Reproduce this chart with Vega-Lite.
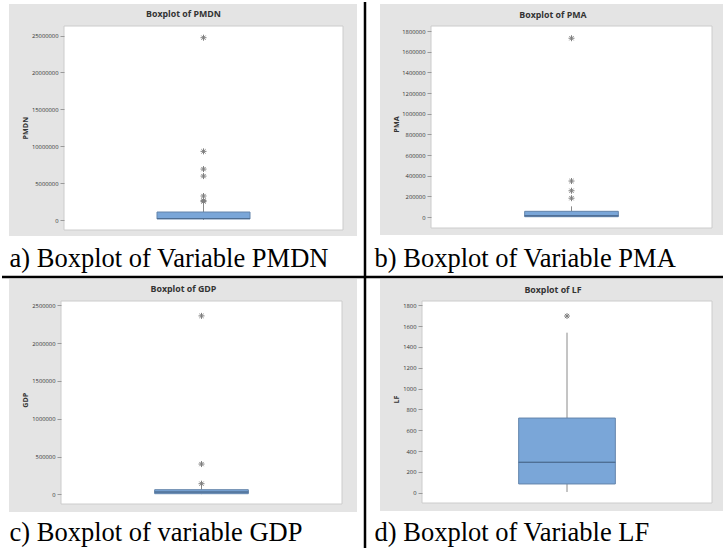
{
  "$schema": "https://vega.github.io/schema/vega-lite/v6.json",
  "background": "white",
  "padding": 0,
  "bounds": "flush",
  "spacing": 0,
  "columns": 2,
  "datasets": {
    "stats": [
      {"variable": "PMDN", "lower": 10000, "q1": 140000, "median": 200000, "q3": 1080000, "upper": 2150000},
      {"variable": "PMA", "lower": 1000, "q1": 3000, "median": 12000, "q3": 55000, "upper": 103000},
      {"variable": "GDP", "lower": 2000, "q1": 8000, "median": 30000, "q3": 61000, "upper": 110000},
      {"variable": "LF", "lower": 7, "q1": 84, "median": 292, "q3": 717, "upper": 1537}
    ],
    "outliers": [
      {"variable": "PMDN", "value": 24700000},
      {"variable": "PMDN", "value": 9300000},
      {"variable": "PMDN", "value": 6900000},
      {"variable": "PMDN", "value": 5950000},
      {"variable": "PMDN", "value": 3250000},
      {"variable": "PMDN", "value": 2650000},
      {"variable": "PMDN", "value": 2500000},
      {"variable": "PMA", "value": 1730000},
      {"variable": "PMA", "value": 348000},
      {"variable": "PMA", "value": 254000},
      {"variable": "PMA", "value": 182000},
      {"variable": "GDP", "value": 2360000},
      {"variable": "GDP", "value": 400000},
      {"variable": "GDP", "value": 140000},
      {"variable": "LF", "value": 1697}
    ]
  },
  "concat": [
    {
      "width": 363, "height": 275,
      "title": {"text": "Boxplot of PMDN", "dx": 0},
      "layer": [
        {
          "data": {"values": [{}]},
          "layer": [
            {"mark": {"type": "rect", "fill": "#e4e4e4"},
             "encoding": {
               "x": {"datum": 7, "type": "quantitative", "scale": {"domain": [0, 363], "nice": false, "zero": false}, "axis": null},
               "x2": {"datum": 355},
               "y": {"datum": 2, "type": "quantitative", "scale": {"domain": [0, 275], "reverse": true, "nice": false, "zero": false}, "axis": null},
               "y2": {"datum": 234}}},
            {"mark": {"type": "rect", "fill": "white", "stroke": "#cccccc", "strokeWidth": 1},
             "encoding": {
               "x": {"datum": 62, "type": "quantitative", "scale": {"domain": [0, 363], "nice": false, "zero": false}, "axis": null},
               "x2": {"datum": 341},
               "y": {"datum": 24, "type": "quantitative", "scale": {"domain": [0, 275], "reverse": true, "nice": false, "zero": false}, "axis": null},
               "y2": {"datum": 228}}},
            {"mark": {"type": "rule", "color": "black", "strokeWidth": 2.5},
             "encoding": {
               "x": {"datum": 363, "type": "quantitative", "scale": {"domain": [0, 363], "nice": false, "zero": false}, "axis": null},
               "y": {"datum": 0, "type": "quantitative", "scale": {"domain": [0, 275], "reverse": true, "nice": false, "zero": false}, "axis": null},
               "y2": {"datum": 275}}},
            {"mark": {"type": "rule", "color": "black", "strokeWidth": 2.5},
             "encoding": {
               "x": {"datum": 0, "type": "quantitative", "scale": {"domain": [0, 363], "nice": false, "zero": false}, "axis": null},
               "x2": {"datum": 363},
               "y": {"datum": 275, "type": "quantitative", "scale": {"domain": [0, 275], "reverse": true, "nice": false, "zero": false}, "axis": null}}}
          ]
        },
        {
          "layer": [
            {"data": {"name": "stats"}, "transform": [{"filter": "datum.variable === 'PMDN'"}],
             "mark": {"type": "rule", "color": "#8a8a8a", "strokeWidth": 1},
             "encoding": {
               "x": {"field": "variable", "type": "nominal", "scale": {"range": [62, 341], "paddingInner": 0, "paddingOuter": 1}, "axis": {"orient": "bottom", "zindex": 1, "title": "a) Boxplot of Variable PMDN", "titleX": 7, "titleY": -11}},
               "y": {"field": "q3", "type": "quantitative", "scale": {"domain": [0, 25000000], "range": [218, 33.5], "nice": false, "zero": false}, "axis": {"orient": "left", "zindex": 1, "title": "PMDN", "offset": -62, "titleX": -39, "values": [0, 5000000, 10000000, 15000000, 20000000, 25000000]}},
               "y2": {"field": "upper"}}},
            {"data": {"name": "stats"}, "transform": [{"filter": "datum.variable === 'PMDN'"}],
             "mark": {"type": "rule", "color": "#8a8a8a", "strokeWidth": 1},
             "encoding": {
               "x": {"field": "variable", "type": "nominal", "scale": {"range": [62, 341], "paddingInner": 0, "paddingOuter": 1}, "axis": {"orient": "bottom", "zindex": 1, "title": "a) Boxplot of Variable PMDN", "titleX": 7, "titleY": -11}},
               "y": {"field": "lower", "type": "quantitative", "scale": {"domain": [0, 25000000], "range": [218, 33.5], "nice": false, "zero": false}, "axis": {"orient": "left", "zindex": 1, "title": "PMDN", "offset": -62, "titleX": -39, "values": [0, 5000000, 10000000, 15000000, 20000000, 25000000]}},
               "y2": {"field": "q1"}}},
            {"data": {"name": "stats"}, "transform": [{"filter": "datum.variable === 'PMDN'"}],
             "mark": {"type": "bar", "fill": "#7aa6d8", "stroke": "#6384ab", "strokeWidth": 1},
             "encoding": {
               "x": {"field": "variable", "type": "nominal", "scale": {"range": [62, 341], "paddingInner": 0, "paddingOuter": 1}, "axis": {"orient": "bottom", "zindex": 1, "title": "a) Boxplot of Variable PMDN", "titleX": 7, "titleY": -11}},
               "y": {"field": "q1", "type": "quantitative", "scale": {"domain": [0, 25000000], "range": [218, 33.5], "nice": false, "zero": false}, "axis": {"orient": "left", "zindex": 1, "title": "PMDN", "offset": -62, "titleX": -39, "values": [0, 5000000, 10000000, 15000000, 20000000, 25000000]}},
               "y2": {"field": "q3"}}},
            {"data": {"name": "stats"}, "transform": [{"filter": "datum.variable === 'PMDN'"}],
             "mark": {"type": "bar", "fillOpacity": 0, "stroke": "#4e6d93", "strokeWidth": 1},
             "encoding": {
               "x": {"field": "variable", "type": "nominal", "scale": {"range": [62, 341], "paddingInner": 0, "paddingOuter": 1}, "axis": {"orient": "bottom", "zindex": 1, "title": "a) Boxplot of Variable PMDN", "titleX": 7, "titleY": -11}},
               "y": {"field": "median", "type": "quantitative", "scale": {"domain": [0, 25000000], "range": [218, 33.5], "nice": false, "zero": false}, "axis": {"orient": "left", "zindex": 1, "title": "PMDN", "offset": -62, "titleX": -39, "values": [0, 5000000, 10000000, 15000000, 20000000, 25000000]}},
               "y2": {"field": "median"}}},
            {"data": {"name": "outliers"}, "transform": [{"filter": "datum.variable === 'PMDN'"}],
             "mark": {"type": "point", "shape": "M0,-1L0,1M-1,0L1,0M-0.7,-0.7L0.7,0.7M-0.7,0.7L0.7,-0.7", "filled": false, "color": "#7f7f7f", "strokeWidth": 1, "size": 36, "opacity": 1},
             "encoding": {
               "x": {"field": "variable", "type": "nominal", "scale": {"range": [62, 341], "paddingInner": 0, "paddingOuter": 1}, "axis": {"orient": "bottom", "zindex": 1, "title": "a) Boxplot of Variable PMDN", "titleX": 7, "titleY": -11}},
               "y": {"field": "value", "type": "quantitative", "scale": {"domain": [0, 25000000], "range": [218, 33.5], "nice": false, "zero": false}, "axis": {"orient": "left", "zindex": 1, "title": "PMDN", "offset": -62, "titleX": -39, "values": [0, 5000000, 10000000, 15000000, 20000000, 25000000]}}}}
          ]
        }
      ],
      "resolve": {"scale": {"x": "independent", "y": "independent"}}
    },
    {
      "width": 360, "height": 275,
      "title": {"text": "Boxplot of PMA", "dx": 8},
      "layer": [
        {
          "data": {"values": [{}]},
          "layer": [
            {"mark": {"type": "rect", "fill": "#e4e4e4"},
             "encoding": {
               "x": {"datum": 15, "type": "quantitative", "scale": {"domain": [0, 360], "nice": false, "zero": false}, "axis": null},
               "x2": {"datum": 360},
               "y": {"datum": 2, "type": "quantitative", "scale": {"domain": [0, 275], "reverse": true, "nice": false, "zero": false}, "axis": null},
               "y2": {"datum": 233}}},
            {"mark": {"type": "rect", "fill": "white", "stroke": "#cccccc", "strokeWidth": 1},
             "encoding": {
               "x": {"datum": 66, "type": "quantitative", "scale": {"domain": [0, 360], "nice": false, "zero": false}, "axis": null},
               "x2": {"datum": 347},
               "y": {"datum": 24, "type": "quantitative", "scale": {"domain": [0, 275], "reverse": true, "nice": false, "zero": false}, "axis": null},
               "y2": {"datum": 226}}},
            {"mark": {"type": "rule", "color": "black", "strokeWidth": 2.5},
             "encoding": {
               "x": {"datum": 0, "type": "quantitative", "scale": {"domain": [0, 360], "nice": false, "zero": false}, "axis": null},
               "x2": {"datum": 360},
               "y": {"datum": 275, "type": "quantitative", "scale": {"domain": [0, 275], "reverse": true, "nice": false, "zero": false}, "axis": null}}}
          ]
        },
        {
          "layer": [
            {"data": {"name": "stats"}, "transform": [{"filter": "datum.variable === 'PMA'"}],
             "mark": {"type": "rule", "color": "#8a8a8a", "strokeWidth": 1},
             "encoding": {
               "x": {"field": "variable", "type": "nominal", "scale": {"range": [66, 347], "paddingInner": 0, "paddingOuter": 1}, "axis": {"orient": "bottom", "zindex": 1, "title": "b) Boxplot of Variable PMA", "titleX": 9, "titleY": -11}},
               "y": {"field": "q3", "type": "quantitative", "scale": {"domain": [0, 1800000], "range": [215, 29], "nice": false, "zero": false}, "axis": {"orient": "left", "zindex": 1, "title": "PMA", "offset": -66, "titleX": -35, "values": [0, 200000, 400000, 600000, 800000, 1000000, 1200000, 1400000, 1600000, 1800000]}},
               "y2": {"field": "upper"}}},
            {"data": {"name": "stats"}, "transform": [{"filter": "datum.variable === 'PMA'"}],
             "mark": {"type": "rule", "color": "#8a8a8a", "strokeWidth": 1},
             "encoding": {
               "x": {"field": "variable", "type": "nominal", "scale": {"range": [66, 347], "paddingInner": 0, "paddingOuter": 1}, "axis": {"orient": "bottom", "zindex": 1, "title": "b) Boxplot of Variable PMA", "titleX": 9, "titleY": -11}},
               "y": {"field": "lower", "type": "quantitative", "scale": {"domain": [0, 1800000], "range": [215, 29], "nice": false, "zero": false}, "axis": {"orient": "left", "zindex": 1, "title": "PMA", "offset": -66, "titleX": -35, "values": [0, 200000, 400000, 600000, 800000, 1000000, 1200000, 1400000, 1600000, 1800000]}},
               "y2": {"field": "q1"}}},
            {"data": {"name": "stats"}, "transform": [{"filter": "datum.variable === 'PMA'"}],
             "mark": {"type": "bar", "fill": "#7aa6d8", "stroke": "#6384ab", "strokeWidth": 1},
             "encoding": {
               "x": {"field": "variable", "type": "nominal", "scale": {"range": [66, 347], "paddingInner": 0, "paddingOuter": 1}, "axis": {"orient": "bottom", "zindex": 1, "title": "b) Boxplot of Variable PMA", "titleX": 9, "titleY": -11}},
               "y": {"field": "q1", "type": "quantitative", "scale": {"domain": [0, 1800000], "range": [215, 29], "nice": false, "zero": false}, "axis": {"orient": "left", "zindex": 1, "title": "PMA", "offset": -66, "titleX": -35, "values": [0, 200000, 400000, 600000, 800000, 1000000, 1200000, 1400000, 1600000, 1800000]}},
               "y2": {"field": "q3"}}},
            {"data": {"name": "stats"}, "transform": [{"filter": "datum.variable === 'PMA'"}],
             "mark": {"type": "bar", "fillOpacity": 0, "stroke": "#4e6d93", "strokeWidth": 1},
             "encoding": {
               "x": {"field": "variable", "type": "nominal", "scale": {"range": [66, 347], "paddingInner": 0, "paddingOuter": 1}, "axis": {"orient": "bottom", "zindex": 1, "title": "b) Boxplot of Variable PMA", "titleX": 9, "titleY": -11}},
               "y": {"field": "median", "type": "quantitative", "scale": {"domain": [0, 1800000], "range": [215, 29], "nice": false, "zero": false}, "axis": {"orient": "left", "zindex": 1, "title": "PMA", "offset": -66, "titleX": -35, "values": [0, 200000, 400000, 600000, 800000, 1000000, 1200000, 1400000, 1600000, 1800000]}},
               "y2": {"field": "median"}}},
            {"data": {"name": "outliers"}, "transform": [{"filter": "datum.variable === 'PMA'"}],
             "mark": {"type": "point", "shape": "M0,-1L0,1M-1,0L1,0M-0.7,-0.7L0.7,0.7M-0.7,0.7L0.7,-0.7", "filled": false, "color": "#7f7f7f", "strokeWidth": 1, "size": 36, "opacity": 1},
             "encoding": {
               "x": {"field": "variable", "type": "nominal", "scale": {"range": [66, 347], "paddingInner": 0, "paddingOuter": 1}, "axis": {"orient": "bottom", "zindex": 1, "title": "b) Boxplot of Variable PMA", "titleX": 9, "titleY": -11}},
               "y": {"field": "value", "type": "quantitative", "scale": {"domain": [0, 1800000], "range": [215, 29], "nice": false, "zero": false}, "axis": {"orient": "left", "zindex": 1, "title": "PMA", "offset": -66, "titleX": -35, "values": [0, 200000, 400000, 600000, 800000, 1000000, 1200000, 1400000, 1600000, 1800000]}}}}
          ]
        }
      ],
      "resolve": {"scale": {"x": "independent", "y": "independent"}}
    },
    {
      "width": 363, "height": 273,
      "title": {"text": "Boxplot of GDP", "dx": 0},
      "layer": [
        {
          "data": {"values": [{}]},
          "layer": [
            {"mark": {"type": "rect", "fill": "#e4e4e4"},
             "encoding": {
               "x": {"datum": 7, "type": "quantitative", "scale": {"domain": [0, 363], "nice": false, "zero": false}, "axis": null},
               "x2": {"datum": 355},
               "y": {"datum": 2, "type": "quantitative", "scale": {"domain": [0, 273], "reverse": true, "nice": false, "zero": false}, "axis": null},
               "y2": {"datum": 235}}},
            {"mark": {"type": "rect", "fill": "white", "stroke": "#cccccc", "strokeWidth": 1},
             "encoding": {
               "x": {"datum": 59, "type": "quantitative", "scale": {"domain": [0, 363], "nice": false, "zero": false}, "axis": null},
               "x2": {"datum": 340},
               "y": {"datum": 24, "type": "quantitative", "scale": {"domain": [0, 273], "reverse": true, "nice": false, "zero": false}, "axis": null},
               "y2": {"datum": 227}}},
            {"mark": {"type": "rule", "color": "black", "strokeWidth": 2.5},
             "encoding": {
               "x": {"datum": 363, "type": "quantitative", "scale": {"domain": [0, 363], "nice": false, "zero": false}, "axis": null},
               "y": {"datum": 0, "type": "quantitative", "scale": {"domain": [0, 273], "reverse": true, "nice": false, "zero": false}, "axis": null},
               "y2": {"datum": 273}}}
          ]
        },
        {
          "layer": [
            {"data": {"name": "stats"}, "transform": [{"filter": "datum.variable === 'GDP'"}],
             "mark": {"type": "rule", "color": "#8a8a8a", "strokeWidth": 1},
             "encoding": {
               "x": {"field": "variable", "type": "nominal", "scale": {"range": [59, 340], "paddingInner": 0, "paddingOuter": 1}, "axis": {"orient": "bottom", "zindex": 1, "title": "c) Boxplot of variable GDP", "titleX": 7, "titleY": -10}},
               "y": {"field": "q3", "type": "quantitative", "scale": {"domain": [0, 2500000], "range": [217.3, 28.3], "nice": false, "zero": false}, "axis": {"orient": "left", "zindex": 1, "title": "GDP", "offset": -59, "titleX": -36, "values": [0, 500000, 1000000, 1500000, 2000000, 2500000]}},
               "y2": {"field": "upper"}}},
            {"data": {"name": "stats"}, "transform": [{"filter": "datum.variable === 'GDP'"}],
             "mark": {"type": "rule", "color": "#8a8a8a", "strokeWidth": 1},
             "encoding": {
               "x": {"field": "variable", "type": "nominal", "scale": {"range": [59, 340], "paddingInner": 0, "paddingOuter": 1}, "axis": {"orient": "bottom", "zindex": 1, "title": "c) Boxplot of variable GDP", "titleX": 7, "titleY": -10}},
               "y": {"field": "lower", "type": "quantitative", "scale": {"domain": [0, 2500000], "range": [217.3, 28.3], "nice": false, "zero": false}, "axis": {"orient": "left", "zindex": 1, "title": "GDP", "offset": -59, "titleX": -36, "values": [0, 500000, 1000000, 1500000, 2000000, 2500000]}},
               "y2": {"field": "q1"}}},
            {"data": {"name": "stats"}, "transform": [{"filter": "datum.variable === 'GDP'"}],
             "mark": {"type": "bar", "fill": "#7aa6d8", "stroke": "#6384ab", "strokeWidth": 1},
             "encoding": {
               "x": {"field": "variable", "type": "nominal", "scale": {"range": [59, 340], "paddingInner": 0, "paddingOuter": 1}, "axis": {"orient": "bottom", "zindex": 1, "title": "c) Boxplot of variable GDP", "titleX": 7, "titleY": -10}},
               "y": {"field": "q1", "type": "quantitative", "scale": {"domain": [0, 2500000], "range": [217.3, 28.3], "nice": false, "zero": false}, "axis": {"orient": "left", "zindex": 1, "title": "GDP", "offset": -59, "titleX": -36, "values": [0, 500000, 1000000, 1500000, 2000000, 2500000]}},
               "y2": {"field": "q3"}}},
            {"data": {"name": "stats"}, "transform": [{"filter": "datum.variable === 'GDP'"}],
             "mark": {"type": "bar", "fillOpacity": 0, "stroke": "#4e6d93", "strokeWidth": 1},
             "encoding": {
               "x": {"field": "variable", "type": "nominal", "scale": {"range": [59, 340], "paddingInner": 0, "paddingOuter": 1}, "axis": {"orient": "bottom", "zindex": 1, "title": "c) Boxplot of variable GDP", "titleX": 7, "titleY": -10}},
               "y": {"field": "median", "type": "quantitative", "scale": {"domain": [0, 2500000], "range": [217.3, 28.3], "nice": false, "zero": false}, "axis": {"orient": "left", "zindex": 1, "title": "GDP", "offset": -59, "titleX": -36, "values": [0, 500000, 1000000, 1500000, 2000000, 2500000]}},
               "y2": {"field": "median"}}},
            {"data": {"name": "outliers"}, "transform": [{"filter": "datum.variable === 'GDP'"}],
             "mark": {"type": "point", "shape": "M0,-1L0,1M-1,0L1,0M-0.7,-0.7L0.7,0.7M-0.7,0.7L0.7,-0.7", "filled": false, "color": "#7f7f7f", "strokeWidth": 1, "size": 36, "opacity": 1},
             "encoding": {
               "x": {"field": "variable", "type": "nominal", "scale": {"range": [59, 340], "paddingInner": 0, "paddingOuter": 1}, "axis": {"orient": "bottom", "zindex": 1, "title": "c) Boxplot of variable GDP", "titleX": 7, "titleY": -10}},
               "y": {"field": "value", "type": "quantitative", "scale": {"domain": [0, 2500000], "range": [217.3, 28.3], "nice": false, "zero": false}, "axis": {"orient": "left", "zindex": 1, "title": "GDP", "offset": -59, "titleX": -36, "values": [0, 500000, 1000000, 1500000, 2000000, 2500000]}}}}
          ]
        }
      ],
      "resolve": {"scale": {"x": "independent", "y": "independent"}}
    },
    {
      "width": 360, "height": 273,
      "title": {"text": "Boxplot of LF", "dx": 8},
      "layer": [
        {
          "data": {"values": [{}]},
          "layer": [
            {"mark": {"type": "rect", "fill": "#e4e4e4"},
             "encoding": {
               "x": {"datum": 15, "type": "quantitative", "scale": {"domain": [0, 360], "nice": false, "zero": false}, "axis": null},
               "x2": {"datum": 360},
               "y": {"datum": 2, "type": "quantitative", "scale": {"domain": [0, 273], "reverse": true, "nice": false, "zero": false}, "axis": null},
               "y2": {"datum": 234}}},
            {"mark": {"type": "rect", "fill": "white", "stroke": "#cccccc", "strokeWidth": 1},
             "encoding": {
               "x": {"datum": 57, "type": "quantitative", "scale": {"domain": [0, 360], "nice": false, "zero": false}, "axis": null},
               "x2": {"datum": 347},
               "y": {"datum": 24, "type": "quantitative", "scale": {"domain": [0, 273], "reverse": true, "nice": false, "zero": false}, "axis": null},
               "y2": {"datum": 226}}}
          ]
        },
        {
          "layer": [
            {"data": {"name": "stats"}, "transform": [{"filter": "datum.variable === 'LF'"}],
             "mark": {"type": "rule", "color": "#8a8a8a", "strokeWidth": 1},
             "encoding": {
               "x": {"field": "variable", "type": "nominal", "scale": {"range": [57, 347], "paddingInner": 0, "paddingOuter": 1}, "axis": {"orient": "bottom", "zindex": 1, "title": "d) Boxplot of Variable LF", "titleX": 9, "titleY": -10}},
               "y": {"field": "q3", "type": "quantitative", "scale": {"domain": [0, 1800], "range": [215.7, 28.3], "nice": false, "zero": false}, "axis": {"orient": "left", "zindex": 1, "title": "LF", "offset": -57, "titleX": -26, "values": [0, 200, 400, 600, 800, 1000, 1200, 1400, 1600, 1800]}},
               "y2": {"field": "upper"}}},
            {"data": {"name": "stats"}, "transform": [{"filter": "datum.variable === 'LF'"}],
             "mark": {"type": "rule", "color": "#8a8a8a", "strokeWidth": 1},
             "encoding": {
               "x": {"field": "variable", "type": "nominal", "scale": {"range": [57, 347], "paddingInner": 0, "paddingOuter": 1}, "axis": {"orient": "bottom", "zindex": 1, "title": "d) Boxplot of Variable LF", "titleX": 9, "titleY": -10}},
               "y": {"field": "lower", "type": "quantitative", "scale": {"domain": [0, 1800], "range": [215.7, 28.3], "nice": false, "zero": false}, "axis": {"orient": "left", "zindex": 1, "title": "LF", "offset": -57, "titleX": -26, "values": [0, 200, 400, 600, 800, 1000, 1200, 1400, 1600, 1800]}},
               "y2": {"field": "q1"}}},
            {"data": {"name": "stats"}, "transform": [{"filter": "datum.variable === 'LF'"}],
             "mark": {"type": "bar", "fill": "#7aa6d8", "stroke": "#6384ab", "strokeWidth": 1},
             "encoding": {
               "x": {"field": "variable", "type": "nominal", "scale": {"range": [57, 347], "paddingInner": 0, "paddingOuter": 1}, "axis": {"orient": "bottom", "zindex": 1, "title": "d) Boxplot of Variable LF", "titleX": 9, "titleY": -10}},
               "y": {"field": "q1", "type": "quantitative", "scale": {"domain": [0, 1800], "range": [215.7, 28.3], "nice": false, "zero": false}, "axis": {"orient": "left", "zindex": 1, "title": "LF", "offset": -57, "titleX": -26, "values": [0, 200, 400, 600, 800, 1000, 1200, 1400, 1600, 1800]}},
               "y2": {"field": "q3"}}},
            {"data": {"name": "stats"}, "transform": [{"filter": "datum.variable === 'LF'"}],
             "mark": {"type": "bar", "fillOpacity": 0, "stroke": "#4e6d93", "strokeWidth": 1},
             "encoding": {
               "x": {"field": "variable", "type": "nominal", "scale": {"range": [57, 347], "paddingInner": 0, "paddingOuter": 1}, "axis": {"orient": "bottom", "zindex": 1, "title": "d) Boxplot of Variable LF", "titleX": 9, "titleY": -10}},
               "y": {"field": "median", "type": "quantitative", "scale": {"domain": [0, 1800], "range": [215.7, 28.3], "nice": false, "zero": false}, "axis": {"orient": "left", "zindex": 1, "title": "LF", "offset": -57, "titleX": -26, "values": [0, 200, 400, 600, 800, 1000, 1200, 1400, 1600, 1800]}},
               "y2": {"field": "median"}}},
            {"data": {"name": "outliers"}, "transform": [{"filter": "datum.variable === 'LF'"}],
             "mark": {"type": "point", "shape": "M0,-1L0,1M-1,0L1,0M-0.7,-0.7L0.7,0.7M-0.7,0.7L0.7,-0.7", "filled": false, "color": "#7f7f7f", "strokeWidth": 1, "size": 36, "opacity": 1},
             "encoding": {
               "x": {"field": "variable", "type": "nominal", "scale": {"range": [57, 347], "paddingInner": 0, "paddingOuter": 1}, "axis": {"orient": "bottom", "zindex": 1, "title": "d) Boxplot of Variable LF", "titleX": 9, "titleY": -10}},
               "y": {"field": "value", "type": "quantitative", "scale": {"domain": [0, 1800], "range": [215.7, 28.3], "nice": false, "zero": false}, "axis": {"orient": "left", "zindex": 1, "title": "LF", "offset": -57, "titleX": -26, "values": [0, 200, 400, 600, 800, 1000, 1200, 1400, 1600, 1800]}}}}
          ]
        }
      ],
      "resolve": {"scale": {"x": "independent", "y": "independent"}}
    }
  ],
  "config": {
    "view": {"stroke": null},
    "axisY": {"labelFont": "Open Sans", "labelFontSize": 5.8, "labelColor": "#333333", "labelPadding": 2, "tickSize": 4, "tickColor": "#9a9a9a", "tickWidth": 1, "domain": false, "grid": false, "format": "d", "titleFont": "Open Sans", "titleFontSize": 7.2, "titleFontWeight": "bold", "titleColor": "#333333", "titleAngle": 270, "titleAlign": "center", "titleBaseline": "middle"},
    "axisX": {"domain": false, "ticks": false, "labels": false, "grid": false, "titleFont": "Liberation Serif", "titleFontSize": 26.5, "titleFontWeight": "normal", "titleColor": "#000000", "titleAlign": "left", "titleBaseline": "alphabetic"},
    "title": {"font": "Open Sans", "fontSize": 8.8, "fontWeight": "bold", "color": "#333333", "anchor": "middle", "frame": "group", "baseline": "alphabetic", "offset": -18}
  }
}
